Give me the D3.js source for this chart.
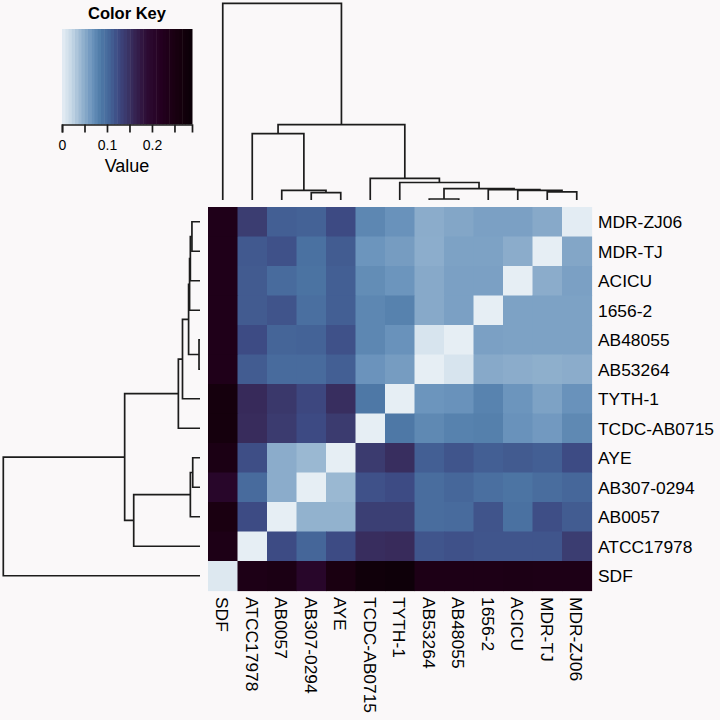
<!DOCTYPE html>
<html>
<head>
<meta charset="utf-8">
<script src="https://cdn.jsdelivr.net/npm/d3@7/dist/d3.min.js"></script>
<style>
html,body{margin:0;padding:0;background:#faf8f9;}
svg{display:block;font-family:"Liberation Sans",Arial,Helvetica,sans-serif;}
</style>
</head>
<body>
<svg id="chart" width="720" height="720"></svg>
<script>
// ---------- data ----------
const colLabels = ["SDF","ATCC17978","AB0057","AB307-0294","AYE","TCDC-AB0715","TYTH-1","AB53264","AB48055","1656-2","ACICU","MDR-TJ","MDR-ZJ06"];
const rowLabels = ["MDR-ZJ06","MDR-TJ","ACICU","1656-2","AB48055","AB53264","TYTH-1","TCDC-AB0715","AYE","AB307-0294","AB0057","ATCC17978","SDF"];

// one array per displayed row (top to bottom), columns in colLabels order
const rowMDRZJ06 = [0.235,0.138,0.110,0.108,0.125,0.076,0.068,0.050,0.054,0.058,0.058,0.052,0.002];
const rowMDRTJ   = [0.235,0.114,0.120,0.095,0.112,0.066,0.061,0.049,0.057,0.057,0.050,0.000,0.054];
const rowACICU   = [0.235,0.113,0.100,0.093,0.110,0.072,0.066,0.052,0.058,0.058,0.000,0.050,0.058];
const row1656    = [0.235,0.113,0.118,0.096,0.110,0.076,0.080,0.052,0.058,0.000,0.057,0.057,0.057];
const rowAB48055 = [0.235,0.124,0.106,0.107,0.120,0.076,0.068,0.010,0.000,0.058,0.057,0.057,0.057];
const rowAB53264 = [0.235,0.112,0.100,0.100,0.110,0.067,0.061,0.000,0.010,0.052,0.050,0.048,0.050];
const rowTYTH1   = [0.262,0.156,0.143,0.128,0.152,0.088,0.000,0.066,0.068,0.079,0.066,0.057,0.068];
const rowTCDC    = [0.262,0.154,0.140,0.125,0.140,0.000,0.088,0.075,0.080,0.081,0.068,0.063,0.075];
const rowAYE     = [0.245,0.122,0.050,0.042,0.000,0.140,0.152,0.110,0.117,0.110,0.113,0.110,0.124];
const rowAB307   = [0.205,0.100,0.050,0.000,0.042,0.120,0.124,0.098,0.104,0.096,0.092,0.098,0.104];
const rowAB0057  = [0.250,0.124,0.000,0.046,0.046,0.136,0.136,0.098,0.100,0.118,0.095,0.122,0.112];
const rowATCC    = [0.240,0.000,0.124,0.105,0.124,0.153,0.155,0.117,0.120,0.117,0.117,0.117,0.138];
const rowSDF     = [0.006,0.240,0.245,0.205,0.250,0.275,0.282,0.240,0.240,0.240,0.242,0.240,0.240];
const values = [rowMDRZJ06,rowMDRTJ,rowACICU,row1656,rowAB48055,rowAB53264,rowTYTH1,rowTCDC,rowAYE,rowAB307,rowAB0057,rowATCC,rowSDF];

// hierarchical clustering merges: [left, right, height]; "nK" = K-th merge
const merges = [
  ["AB53264","AB48055",0.005],   // n0
  ["MDR-TJ","MDR-ZJ06",0.041],   // n1
  ["ACICU","n1",0.049],          // n2
  ["1656-2","n2",0.053],         // n3
  ["n0","n3",0.058],             // n4
  ["TYTH-1","n4",0.089],         // n5
  ["TCDC-AB0715","n5",0.110],    // n6
  ["AB307-0294","AYE",0.037],    // n7
  ["AB0057","n7",0.049],         // n8
  ["ATCC17978","n8",0.337],      // n9
  ["n9","n6",0.383],             // n10
  ["SDF","n10",1.000]            // n11
];

const keyDomain = [0, 0.289];
const keyTicks = [0,0.05,0.10,0.15,0.20,0.25];
const keyTickLabels = ["0","","0.1","","0.2",""];

// colour ramp
const colorStops = [0,0.020,0.045,0.065,0.085,0.105,0.125,0.145,0.165,0.190,0.220,0.255,0.289];
const colorRamp  = ["#e6eef4","#c8d9e7","#94b3cf","#6e96be","#4f7ba8","#456699","#3d4a83","#3a3668","#35204e","#2c0b33","#240020","#18000f","#0b0007"];

// ---------- drawing ----------
const svg = d3.select("#chart");
svg.append("rect").attr("width",720).attr("height",720).attr("fill","#faf8f9");

const color = d3.scaleLinear().domain(colorStops).range(colorRamp).interpolate(d3.interpolateRgb).clamp(true);

const heat = {x0:208, y0:207, size:383.5};
const xBand = d3.scaleBand().domain(colLabels).range([heat.x0, heat.x0+heat.size]);
const yBand = d3.scaleBand().domain(rowLabels).range([heat.y0, heat.y0+heat.size]);
const bw = xBand.bandwidth(), bh = yBand.bandwidth();

const cells = [];
rowLabels.forEach((r,i)=>colLabels.forEach((c,j)=>cells.push({r,c,v:values[i][j]})));
svg.append("g").selectAll("rect").data(cells).join("rect")
  .attr("x",d=>xBand(d.c)).attr("y",d=>yBand(d.r))
  .attr("width",bw+0.6).attr("height",bh+0.6)
  .attr("fill",d=>color(d.v));

// row labels
svg.append("g").selectAll("text").data(rowLabels).join("text")
  .attr("x",heat.x0+heat.size+6.5)
  .attr("y",d=>yBand(d)+bh/2)
  .attr("dy","0.36em")
  .attr("font-size",17.4).attr("fill","#000")
  .text(d=>d);

// column labels
svg.append("g").selectAll("text").data(colLabels).join("text")
  .attr("transform",d=>`translate(${xBand(d)+bw/2},${heat.y0+heat.size+6.5}) rotate(90)`)
  .attr("dy","0.36em")
  .attr("font-size",17.4).attr("fill","#000")
  .text(d=>d);

// dendrograms
function buildTree(posOf){
  const nodes = {};
  const get = n => nodes[n] || {pos:posOf(n), h:0};
  const out = [];
  merges.forEach((m,i)=>{
    const a = get(m[0]), b = get(m[1]);
    const nd = {pos:(a.pos+b.pos)/2, h:m[2], a, b};
    nodes["n"+i] = nd; out.push(nd);
  });
  return out;
}
const hTop = d3.scaleLinear().domain([0,1]).range([200,3.3]);
const hLeft = d3.scaleLinear().domain([0,1]).range([200,3.3]);

const topNodes = buildTree(n=>xBand(n)+bw/2);
svg.append("g").selectAll("path").data(topNodes).join("path")
  .attr("d",d=>`M${d.a.pos},${hTop(d.a.h)}V${hTop(d.h)}H${d.b.pos}V${hTop(d.b.h)}`)
  .attr("fill","none").attr("stroke","#1c1c1c").attr("stroke-width",1.7);

const leftNodes = buildTree(n=>yBand(n)+bh/2);
svg.append("g").selectAll("path").data(leftNodes).join("path")
  .attr("d",d=>`M${hLeft(d.a.h)},${d.a.pos}H${hLeft(d.h)}V${d.b.pos}H${hLeft(d.b.h)}`)
  .attr("fill","none").attr("stroke","#1c1c1c").attr("stroke-width",1.7);

// colour key
const kx = d3.scaleLinear().domain(keyDomain).range([62,192]);
const key = svg.append("g");
const nSteps = 40;
const steps = d3.range(nSteps).map(i=>keyDomain[0]+(keyDomain[1]-keyDomain[0])*i/nSteps);
const stepW = (keyDomain[1]-keyDomain[0])/nSteps;
key.selectAll("rect").data(steps).join("rect")
  .attr("x",d=>kx(d)).attr("y",29)
  .attr("width",d=>kx(d+stepW)-kx(d)+0.5).attr("height",95.5)
  .attr("fill",d=>color(d+stepW/2));

const axis = d3.axisBottom(kx).tickValues(keyTicks).tickSizeOuter(0).tickSize(8)
  .tickFormat((d,i)=>keyTickLabels[i]);
const ag = svg.append("g").attr("transform","translate(0,124.5)").call(axis);
ag.selectAll("path,line").attr("stroke","#1c1c1c").attr("stroke-width",1.7);
ag.selectAll("text").attr("font-size",14).attr("fill","#000").attr("y",15.5).attr("dy","0.71em")
  .attr("font-family","'Liberation Sans',Arial,sans-serif");

svg.append("text").attr("x",127).attr("y",18.5).attr("text-anchor","middle")
  .attr("font-size",16.5).attr("font-weight","bold").attr("fill","#000").text("Color Key");
svg.append("text").attr("x",127).attr("y",172).attr("text-anchor","middle")
  .attr("font-size",18).attr("fill","#000").text("Value");
</script>
</body>
</html>
